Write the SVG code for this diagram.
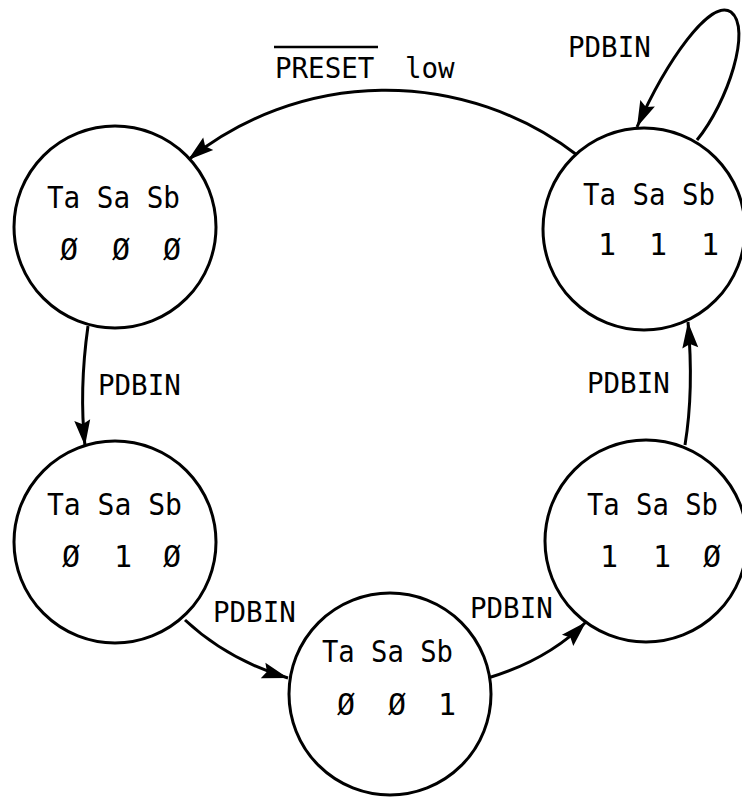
<svg xmlns="http://www.w3.org/2000/svg" width="742" height="798" viewBox="0 0 742 798">
<style>
  .st { fill: #fff; stroke: #000; stroke-width: 3; }
  .t { font-family: "DejaVu Sans Mono", "Liberation Mono", monospace; font-size: 30px; fill: #000; }
  .d { text-anchor: middle; }
  .lbl { font-family: "DejaVu Sans Mono", "Liberation Mono", monospace; font-size: 27.5px; fill: #000; }
  .edge { fill: none; stroke: #000; stroke-width: 3; marker-end: url(#ah); }
</style>
<defs>
  <marker id="ah" markerUnits="userSpaceOnUse" markerWidth="30" markerHeight="20" refX="26" refY="8" orient="auto" overflow="visible">
    <path d="M0,0 L26,8 L0,16 L4,8 Z" fill="#000"/>
  </marker>
</defs>
<rect width="742" height="798" fill="#fff"/>

<g id="connectors">
  <path id="e-preset" class="edge" d="M 577 155 A 315 315 0 0 0 188 160"/>
  <path id="e-self" class="edge" d="M 697 140 C 728 102, 752 28, 731 12 C 710 -2, 666 62, 637 127"/>
  <path id="e-1-3" class="edge" d="M 88 326 Q 79 390 85 446"/>
  <path id="e-3-4" class="edge" d="M 185 620 Q 228 660 288 678"/>
  <path id="e-4-5" class="edge" d="M 488 678 Q 548 660 586 622"/>
  <path id="e-5-2" class="edge" d="M 685 445 Q 694 390 688 322"/>
</g>

<g id="labels">
  <text class="lbl" x="568" y="57">PDBIN</text>
  <text class="lbl" x="275" y="78">PRESET</text>
  <line x1="274" y1="47" x2="378" y2="47" stroke="#000" stroke-width="2.5"/>
  <text class="lbl" x="405" y="78">low</text>
  <text class="lbl" x="98" y="395">PDBIN</text>
  <text class="lbl" x="587" y="393">PDBIN</text>
  <text class="lbl" x="213" y="622">PDBIN</text>
  <text class="lbl" x="470" y="618">PDBIN</text>
</g>

<g id="s000">
  <circle class="st" cx="115" cy="227" r="101"/>
  <text class="t" x="47" y="208" textLength="133" lengthAdjust="spacingAndGlyphs">Ta Sa Sb</text>
  <text class="t d" x="69 121 172" y="260">ØØØ</text>
</g>

<g id="s111">
  <circle class="st" cx="644" cy="229" r="101"/>
  <text class="t" x="583" y="205" textLength="132" lengthAdjust="spacingAndGlyphs">Ta Sa Sb</text>
  <text class="t d" x="607 658 710" y="255">111</text>
</g>

<g id="s010">
  <circle class="st" cx="115" cy="542" r="101"/>
  <text class="t" x="47" y="515" textLength="135" lengthAdjust="spacingAndGlyphs">Ta Sa Sb</text>
  <text class="t d" x="71 123 172" y="567">Ø1Ø</text>
</g>

<g id="s001">
  <circle class="st" cx="390" cy="694" r="101"/>
  <text class="t" x="322" y="662" textLength="131" lengthAdjust="spacingAndGlyphs">Ta Sa Sb</text>
  <text class="t d" x="346 397 447" y="715">ØØ1</text>
</g>

<g id="s110">
  <circle class="st" cx="646" cy="541" r="101"/>
  <text class="t" x="587" y="515" textLength="131" lengthAdjust="spacingAndGlyphs">Ta Sa Sb</text>
  <text class="t d" x="609 662 712" y="567">11Ø</text>
</g>
</svg>
